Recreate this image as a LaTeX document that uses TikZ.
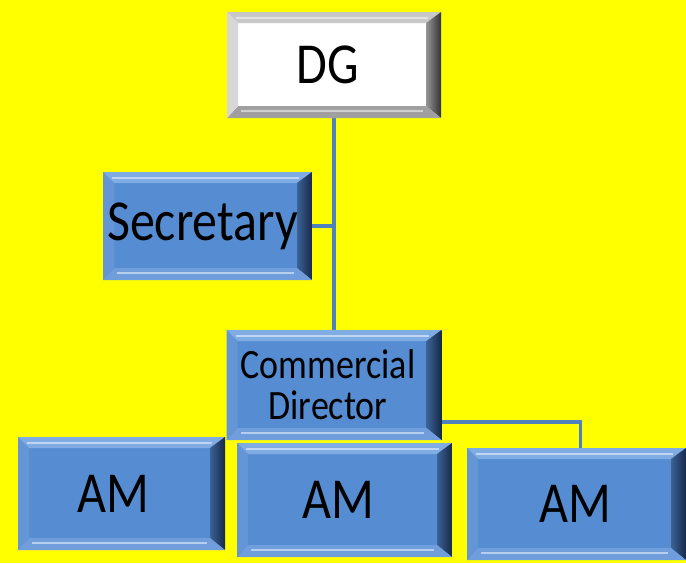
\documentclass[tikz,border=0pt]{standalone}
\usepackage{fontspec}
\setmainfont{Carlito}
\usepackage{tikz}
\usepackage{xcolor}
\usepackage{graphicx}
\usetikzlibrary{positioning}

\definecolor{chartyellow}{RGB}{255,255,0}
\definecolor{boxface}{RGB}{86,141,210}
\definecolor{boxtop}{RGB}{128,172,228}
\definecolor{boxright}{RGB}{22,40,72}
\definecolor{boxrightin}{RGB}{60,98,150}
\definecolor{boxbottom}{RGB}{112,158,220}
\definecolor{boxleft}{RGB}{100,150,214}
\definecolor{greytop}{RGB}{200,200,200}
\definecolor{greyright}{RGB}{50,50,50}
\definecolor{greyrightin}{RGB}{150,150,150}
\definecolor{greybottom}{RGB}{160,160,160}
\definecolor{greyleft}{RGB}{215,215,215}
\definecolor{linkblue}{RGB}{79,129,189}

\pgfdeclarelayer{paper}
\pgfdeclarelayer{links}
\pgfsetlayers{paper,links,main}

\newcommand\bevelfaces[6]{%
  \path (path picture bounding box.north west) coordinate (bA)
        (path picture bounding box.north east) coordinate (bB)
        (path picture bounding box.south east) coordinate (bC)
        (path picture bounding box.south west) coordinate (bD)
        ([xshift=11pt,yshift=-11pt]bA) coordinate (ba)
        ([xshift=-15pt,yshift=-11pt]bB) coordinate (bb)
        ([xshift=-15pt,yshift=12pt]bC) coordinate (bc)
        ([xshift=11pt,yshift=12pt]bD) coordinate (bd);
  \fill[#1] (bA) rectangle (bC);
  \fill[#2] (bA) -- (bB) -- (bb) -- (ba) -- cycle;
  \shade[left color=#4, right color=#3] (bB) -- (bC) -- (bc) -- (bb) -- cycle;
  \fill[#5] (bC) -- (bD) -- (bd) -- (bc) -- cycle;
  \fill[#6] (bD) -- (bA) -- (ba) -- (bd) -- cycle;
  \draw[white, opacity=.5, line width=1.5pt] ([xshift=3pt,yshift=-5pt]bd) -- ([xshift=-3pt,yshift=-5pt]bc);
  \draw[white, opacity=.5, line width=1.2pt] ([xshift=-2pt,yshift=5pt]ba) -- ([xshift=2pt,yshift=5pt]bb);
}
% letters in the chart are a little taller than wide
\newcommand\tallword[1]{\scalebox{1}[1.16]{#1}}

\tikzset{
  orgbox/.style={rectangle, inner sep=0pt, text=black,
    path picture={\bevelfaces{boxface}{boxtop}{boxright}{boxrightin}{boxbottom}{boxleft}}},
  topbox/.style={rectangle, inner sep=0pt, text=black,
    path picture={\bevelfaces{white}{greytop}{greyright}{greyrightin}{greybottom}{greyleft}}},
  bigtext/.style={font=\fontsize{50}{60}\selectfont},
  link/.style={draw=linkblue, line width=3.5pt}
}

\begin{document}
\begin{tikzpicture}[x=1pt,y=-1pt]
    \begin{pgfonlayer}{paper}
        \fill[chartyellow] (0,0) rectangle (686,563);
    \end{pgfonlayer}
    \useasboundingbox (0,0) rectangle (686,563);
    %Boxes
    \node[topbox, bigtext, minimum width=214pt, minimum height=106pt] (dg) at (334,65) {\hspace*{-12pt}\tallword{DG}};
    \node[orgbox, bigtext, minimum width=209pt, minimum height=108pt] (sec) at (207.5,226) {\hspace*{-10pt}\tallword{Secretary}};
    \node[orgbox, minimum width=215pt, minimum height=110pt, align=center, font=\fontsize{36}{41}\selectfont] (cd) at (334,385) {\hspace*{-12pt}\tallword{Commercial}\\\hspace*{-12pt}\tallword{Director}};
    \node[orgbox, bigtext, minimum width=207pt, minimum height=113pt] (am1) at (121.5,493.5) {\hspace*{-16pt}\tallword{AM}};
    \node[orgbox, bigtext, minimum width=215pt, minimum height=114pt] (am2) at (344.5,500) {\hspace*{-12pt}\tallword{AM}};
    \node[orgbox, bigtext, minimum width=219pt, minimum height=112pt] (am3) at (576.5,504) {\hspace*{-2pt}\tallword{AM}};
    %Lines
    \coordinate (spine) at (dg.south);
    \coordinate (amjoin) at ([xshift=4pt]am3.north);
    \begin{pgfonlayer}{links}
        \draw[link] (dg.south) -- (spine |- cd.north);
        \draw[link] (sec.east) -- (sec.east -| spine);
        \draw[link] ([yshift=-37pt]cd.east) -| (amjoin);
    \end{pgfonlayer}
\end{tikzpicture}
\end{document}
